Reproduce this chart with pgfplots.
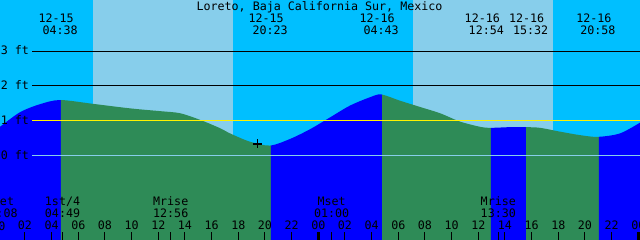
\documentclass[border=0pt]{standalone}
\usepackage{fontspec}
\usepackage{pgfplots}
\pgfplotsset{compat=1.18}
\usepgfplotslibrary{fillbetween}
\newfontfamily\mono{DejaVu Sans Mono}
\definecolor{night}{HTML}{00BFFF}
\definecolor{day}{HTML}{87CEEB}
\definecolor{rise}{HTML}{0000FF}
\definecolor{fall}{HTML}{2E8B57}
\definecolor{datum}{HTML}{87CEEB}
\newcommand{\lf}{\mono\fontsize{8.3}{9.5}\selectfont}
\tikzset{lab/.style={font=\lf, inner sep=0pt, anchor=base}}
\begin{document}
\begin{tikzpicture}
\begin{axis}[
  set layers,
  width=16cm, height=6cm, scale only axis,
  xmin=0.128, xmax=48.128, ymin=-2.436, ymax=4.467,
  axis line style={draw=none},
  axis on top,
  ytick=\empty,
  xtick={2,4,...,22,26,28,...,46},
  xticklabels={02,04,06,08,10,12,14,16,18,20,22,02,04,06,08,10,12,14,16,18,20,22},
  extra x ticks={24,48},
  extra x tick labels={00,00},
  extra x tick style={tick style={black, line width=2.1pt}},
  xtick pos=bottom, xtick align=inside,
  major tick length=0.21cm,
  tick style={black, line width=0.7pt},
  xticklabel style={font=\lf, anchor=base, yshift=0.25cm},
]
% sky: night everywhere, then daylight
\addplot[fill=night, draw=none, on layer=axis background] coordinates {(0,-3) (0,5) (48.2,5) (48.2,-3)};
\addplot[fill=day, draw=none, on layer=axis background] coordinates {(7.103,-3) (7.103,5) (17.603,5) (17.603,-3)};
\addplot[fill=day, draw=none, on layer=axis background] coordinates {(31.103,-3) (31.103,5) (41.603,5) (41.603,-3)};

% tide curve (hours from 12-15 00:00, feet)
\addplot[name path=tide, draw=none, smooth] table {
t h
0.13 0.82
1.63 1.24
3.13 1.47
4.63 1.59
7.10 1.48
9.88 1.35
12.13 1.27
13.63 1.21
15.13 1.02
16.63 0.78
17.38 0.63
18.88 0.39
20.38 0.28
21.88 0.47
23.38 0.75
24.88 1.09
26.38 1.43
27.88 1.67
28.72 1.75
30.13 1.57
31.63 1.39
33.13 1.21
34.63 0.97
36.13 0.82
36.92 0.79
38.38 0.81
39.53 0.81
40.63 0.79
42.13 0.68
43.63 0.58
44.97 0.53
46.63 0.63
48.13 0.94
};
\addplot[name path=base, draw=none] coordinates {(0,-2.436) (48.2,-2.436)};
\addplot[fill=rise, draw=none] fill between[of=tide and base, soft clip={domain=0:4.70}];
\addplot[fill=fall, draw=none] fill between[of=tide and base, soft clip={domain=4.70:20.45}];
\addplot[fill=rise, draw=none] fill between[of=tide and base, soft clip={domain=20.45:28.78}];
\addplot[fill=fall, draw=none] fill between[of=tide and base, soft clip={domain=28.78:36.95}];
\addplot[fill=rise, draw=none] fill between[of=tide and base, soft clip={domain=36.95:39.58}];
\addplot[fill=fall, draw=none] fill between[of=tide and base, soft clip={domain=39.58:45.05}];
\addplot[fill=rise, draw=none] fill between[of=tide and base, soft clip={domain=45.05:48.2}];

% level lines
\addplot[black, line width=0.7pt] coordinates {(2.528,3) (48.2,3)};
\addplot[black, line width=0.7pt] coordinates {(2.528,2) (48.2,2)};
\addplot[yellow, line width=0.7pt] coordinates {(2.528,1) (48.2,1)};
\addplot[datum, line width=0.7pt] coordinates {(2.528,0) (48.2,0)};

% current time marker
\addplot[only marks, mark=+, mark size=3.2pt, black, line width=0.8pt] coordinates {(19.43,0.325)};

% moon event ticks
\addplot[black, line width=0.7pt] coordinates {(4.817,-2.436) (4.817,-2.197)};
\addplot[black, line width=0.7pt] coordinates {(12.933,-2.436) (12.933,-2.197)};
\addplot[black, line width=0.7pt] coordinates {(25.0,-2.436) (25.0,-2.197)};
\addplot[black, line width=0.7pt] coordinates {(37.5,-2.436) (37.5,-2.197)};

% y labels
\node[lab, anchor=base west] at (axis cs:0.165,2.885) {3 ft};
\node[lab, anchor=base west] at (axis cs:0.165,1.885) {2 ft};
\node[lab, anchor=base west] at (axis cs:0.165,0.885) {1 ft};
\node[lab, anchor=base west] at (axis cs:0.165,-0.115) {0 ft};

% title
\node[lab] at (axis cs:24.09,4.179) {Loreto, Baja California Sur, Mexico};

% tide events
\node[lab, xshift=-0.1cm] at (axis cs:4.633,3.825) {12-15};
\node[lab] at (axis cs:4.633,3.480) {04:38};
\node[lab, xshift=-0.1cm] at (axis cs:20.383,3.825) {12-15};
\node[lab] at (axis cs:20.383,3.480) {20:23};
\node[lab, xshift=-0.1cm] at (axis cs:28.717,3.825) {12-16};
\node[lab] at (axis cs:28.717,3.480) {04:43};
\node[lab, xshift=-0.1cm] at (axis cs:36.60,3.825) {12-16};
\node[lab] at (axis cs:36.60,3.480) {12:54};
\node[lab, xshift=-0.1cm] at (axis cs:39.92,3.825) {12-16};
\node[lab] at (axis cs:39.92,3.480) {15:32};
\node[lab, xshift=-0.1cm] at (axis cs:44.967,3.825) {12-16};
\node[lab] at (axis cs:44.967,3.480) {20:58};

% moon events
\node[lab] at (axis cs:0.128,-1.458) {Mset};
\node[lab] at (axis cs:0.128,-1.795) {00:08};
\node[lab] at (axis cs:4.817,-1.458) {1st/4};
\node[lab] at (axis cs:4.817,-1.795) {04:49};
\node[lab] at (axis cs:12.933,-1.458) {Mrise};
\node[lab] at (axis cs:12.933,-1.795) {12:56};
\node[lab] at (axis cs:25.0,-1.458) {Mset};
\node[lab] at (axis cs:25.0,-1.795) {01:00};
\node[lab] at (axis cs:37.5,-1.458) {Mrise};
\node[lab] at (axis cs:37.5,-1.795) {13:30};
\node[lab] at (axis cs:0,-2.154) {00};

\coordinate (SW) at (rel axis cs:0,0);
\coordinate (NE) at (rel axis cs:1,1);
\end{axis}
\pgfresetboundingbox
\useasboundingbox (SW) rectangle (NE);
\end{tikzpicture}
\end{document}
